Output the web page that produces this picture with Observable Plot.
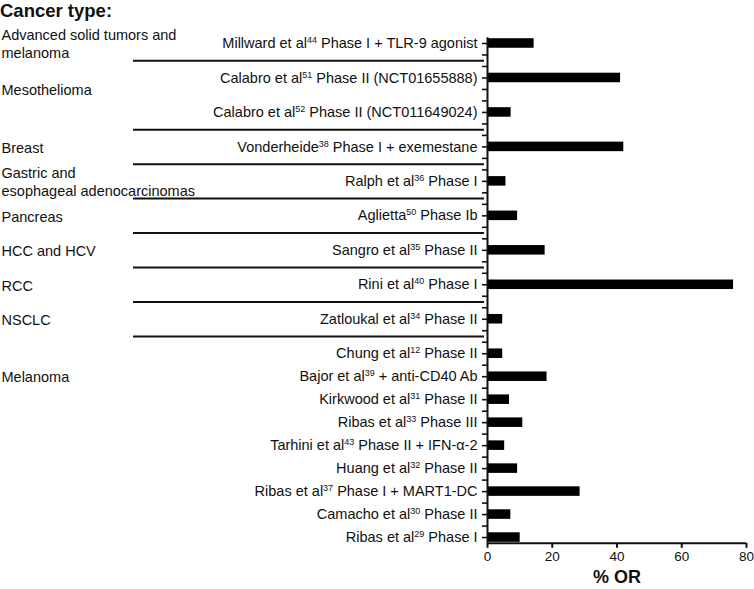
<!DOCTYPE html>
<html><head><meta charset="utf-8">
<script src="https://cdn.jsdelivr.net/npm/d3@7"></script>
<script src="https://cdn.jsdelivr.net/npm/@observablehq/plot@0.6"></script>
<style>
body{margin:0;background:#fff;font-family:"Liberation Sans",Arial,sans-serif;}
#title{font-weight:bold;font-size:18.5px;height:22px;line-height:22px;color:#111;white-space:nowrap;}
#chart svg{display:block;}
</style></head><body>
<div id="title">Cancer type:</div>
<div id="chart"></div>
<script>
// ---- data ----
const studies = [
  "Millward et al^44 Phase I + TLR-9 agonist",
  "Calabro et al^51 Phase II (NCT01655888)",
  "Calabro et al^52 Phase II (NCT011649024)",
  "Vonderheide^38 Phase I + exemestane",
  "Ralph et al^36 Phase I",
  "Aglietta^50 Phase Ib",
  "Sangro et al^35 Phase II",
  "Rini et al^40 Phase I",
  "Zatloukal et al^34 Phase II",
  "Chung et al^12 Phase II",
  "Bajor et al^39 + anti-CD40 Ab",
  "Kirkwood et al^31 Phase II",
  "Ribas et al^33 Phase III",
  "Tarhini et al^43 Phase II + IFN-α-2",
  "Huang et al^32 Phase II",
  "Ribas et al^37 Phase I + MART1-DC",
  "Camacho et al^30 Phase II",
  "Ribas et al^29 Phase I"
];
const studyGroup = [
  "Advanced solid tumors and\nmelanoma",
  "Mesothelioma", "Mesothelioma",
  "Breast",
  "Gastric and\nesophageal adenocarcinomas",
  "Pancreas",
  "HCC and HCV",
  "RCC",
  "NSCLC",
  "Melanoma","Melanoma","Melanoma","Melanoma","Melanoma","Melanoma","Melanoma","Melanoma","Melanoma"
];
const orValues = [14.4, 41.1, 7.3, 42.1, 5.7, 9.3, 17.8, 76.0, 4.7,
                  4.7, 18.4, 6.8, 10.9, 5.3, 9.3, 28.6, 7.2, 10.1];
const xTicks = [0, 20, 40, 60, 80];
const xLabel = "% OR";

// ---- layout of rows (study rows + spacer rows) ----
const rows = [];
const data = [];
const firstRow = new Map(), lastRow = new Map(), count = new Map();
studies.forEach((s, i) => {
  const g = studyGroup[i];
  if (!firstRow.has(g)) firstRow.set(g, rows.length);
  lastRow.set(g, rows.length);
  count.set(g, (count.get(g) || 0) + 1);
  rows.push(s);
  data.push({study: s, group: g, value: orValues[i]});
  if (i < studies.length - 1) {
    const n = g === "Melanoma" ? 1 : 2;
    for (let k = 0; k < n; k++) rows.push(`gap-${i}-${k}`);
  }
});
const groupNames = [...firstRow.keys()];
const groupLabels = groupNames.map(g => ({name: g, row: rows[firstRow.get(g) + Math.min(2, count.get(g) - 1)]}));
const separators = groupNames.slice(0, -1).map(g => rows[lastRow.get(g) + 1]);

const W = 754, H = 567, mTop = 15.25, mBottom = 46.2, mLeft = 487, mRight = 8;
const step = (H - mTop - mBottom) / rows.length;
const font = '"Liberation Sans", Arial, sans-serif';
const fs = 14.5;

const plot = Plot.plot({
  width: W, height: H,
  marginTop: mTop, marginBottom: mBottom, marginLeft: mLeft, marginRight: mRight,
  style: {fontFamily: font, fontSize: fs + "px", color: "#111", background: "#fff"},
  x: {domain: [0, 80], axis: null},
  y: {domain: rows, paddingInner: 0.17, paddingOuter: 0.085, round: false, axis: null},
  marks: [
    Plot.barX(data, {x: "value", y: "study", fill: "#000"}),
    Plot.axisY({ticks: rows, tickSize: 5, tickPadding: 5, strokeWidth: 1.6, stroke: "#111",
      tickFormat: d => d.startsWith("gap-") ? "" : d, label: null, fontSize: fs, fill: "#111"}),
    Plot.axisX({ticks: xTicks, tickSize: 5, tickPadding: 3, strokeWidth: 2, stroke: "#111",
      label: null, fontSize: 13.5, fill: "#111"}),
    Plot.ruleX([0], {stroke: "#111", strokeWidth: 2}),
    Plot.ruleY([rows[rows.length - 1]], {stroke: "#111", strokeWidth: 2, dy: step / 2}),
    Plot.ruleY(separators, {stroke: "#111", strokeWidth: 2, dy: step / 2,
      insetLeft: -(mLeft - 133), insetRight: (W - mRight) - 484}),
    Plot.text(groupLabels, {y: "row", text: "name", frameAnchor: "left", textAnchor: "start",
      dx: -mLeft + 1, lineHeight: 1.24, fontSize: fs, fill: "#111"}),
    Plot.text([xLabel], {frameAnchor: "bottom", dy: 40, fontWeight: "bold", fontSize: 18, fill: "#111"})
  ]
});

// superscripts for reference numbers
const NS = "http://www.w3.org/2000/svg";
plot.querySelectorAll("text").forEach(t => {
  const s = t.textContent;
  if (!s.includes("^")) return;
  while (t.firstChild) t.removeChild(t.firstChild);
  const parts = s.split(/\^(\d+)/);
  let shifted = false;
  parts.forEach((p, j) => {
    if (!p) return;
    const ts = document.createElementNS(NS, "tspan");
    if (j % 2) {
      ts.setAttribute("font-size", "0.62em");
      ts.setAttribute("dy", "-5px");
      shifted = true;
    } else if (shifted) {
      ts.setAttribute("dy", "5px");
      shifted = false;
    }
    ts.textContent = p;
    t.appendChild(ts);
  });
});

document.getElementById("chart").appendChild(plot);
</script>
</body></html>
